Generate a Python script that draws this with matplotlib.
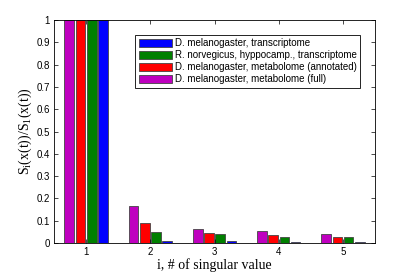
import numpy as np
import matplotlib
matplotlib.use('Agg')
import matplotlib.pyplot as plt
from matplotlib.patches import Patch

# %% data
singular_idx = [1, 2, 3, 4, 5]
series_names = ['D. melanogaster, metabolome (full)',
                'D. melanogaster, metabolome (annotated)',
                'R. norvegicus, hyppocamp., transcriptome',
                'D. melanogaster, transcriptome']
metab_full = [1.0, 0.164, 0.064, 0.054, 0.039]
metab_annot = [1.0, 0.092, 0.045, 0.036, 0.026]
rat_transcr = [1.0, 0.048, 0.040, 0.027, 0.025]
fly_transcr = [1.0, 0.010, 0.008, 0.005, 0.005]
ytick_vals = [0, 0.1, 0.2, 0.3, 0.4, 0.5, 0.6, 0.7, 0.8, 0.9, 1]

colors = ['#bf00bf', '#ff0000', '#008000', '#0000ff']

# %% plot
plt.rcParams['font.family'] = ['Liberation Sans', 'DejaVu Sans']
plt.rcParams['mathtext.fontset'] = 'custom'
plt.rcParams['mathtext.rm'] = 'Liberation Serif'
plt.rcParams['mathtext.it'] = 'Liberation Serif'

fig = plt.figure(figsize=(4.15, 2.74), dpi=100)
ax = fig.add_axes([0.130, 0.113, 0.774, 0.814])

x = np.array(singular_idx)
allseries = [metab_full, metab_annot, rat_transcr, fly_transcr]
w = 0.175
for k, vals in enumerate(allseries):
    off = (k - 1.5) * w
    ax.bar(x + off, vals, width=w * 0.86, color=colors[k],
           edgecolor='#444444', linewidth=0.6)

ax.set_xlim(0.5, 5.5)
ax.set_ylim(0, 1)
ax.set_xticks(singular_idx)
ax.set_yticks(ytick_vals)
ax.set_yticklabels([('%g' % v) for v in ytick_vals])
ax.tick_params(direction='in', top=True, right=True, labelsize=7,
               length=3, width=0.5, pad=3)
for s in ax.spines.values():
    s.set_linewidth(0.6)

ax.set_xlabel('i, # of singular value', family='Liberation Serif',
              fontsize=10, labelpad=1)
ax.set_ylabel(r'S$_\mathrm{i}$(x(t))/S$_\mathrm{1}$(x(t))',
              family='Liberation Serif', fontsize=10, labelpad=2)

# legend order as in figure: blue first
handles = [Patch(facecolor=colors[k], edgecolor='#444444', linewidth=0.6)
           for k in [3, 2, 1, 0]]
labels = [series_names[k] for k in [3, 2, 1, 0]]
leg = ax.legend(handles, labels, loc='upper right',
                bbox_to_anchor=(0.953, 0.933), fontsize=7,
                fancybox=False, edgecolor='black', framealpha=1,
                handlelength=3.4, handleheight=0.85, handletextpad=0.3,
                labelspacing=0.2, borderpad=0.35, borderaxespad=0)
leg.get_frame().set_linewidth(0.6)

fig.savefig('out.png', dpi=100)
